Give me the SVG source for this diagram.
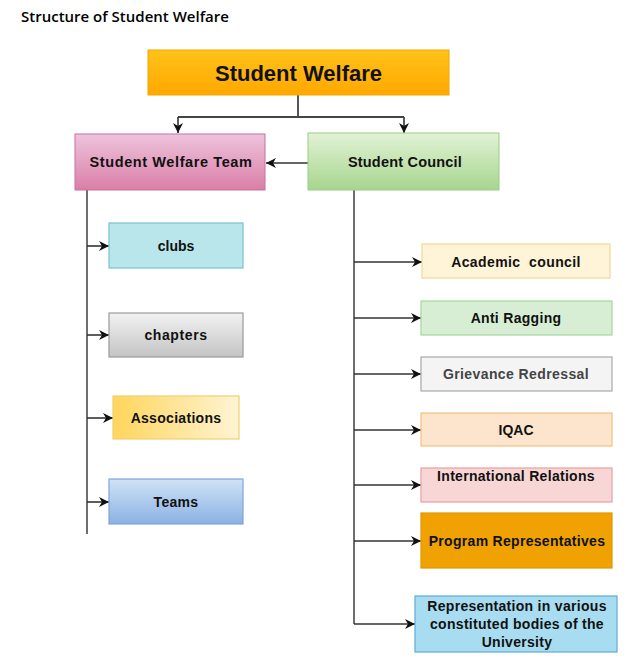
<svg xmlns="http://www.w3.org/2000/svg" width="641" height="667" viewBox="0 0 641 667">
<defs>
<linearGradient id="gOrange" x1="0" y1="0" x2="0" y2="1"><stop offset="0" stop-color="#FFC21A"/><stop offset="1" stop-color="#FFA800"/></linearGradient>
<linearGradient id="gPink" x1="0" y1="0" x2="0" y2="1"><stop offset="0" stop-color="#EEC4DC"/><stop offset="1" stop-color="#DA7EA8"/></linearGradient>
<linearGradient id="gGreen" x1="0" y1="0" x2="0" y2="1"><stop offset="0" stop-color="#E2F2D6"/><stop offset="1" stop-color="#A6D68E"/></linearGradient>
<linearGradient id="gGray" x1="0" y1="0" x2="0" y2="1"><stop offset="0" stop-color="#F2F2F2"/><stop offset="1" stop-color="#C4C4C4"/></linearGradient>
<linearGradient id="gYellow" x1="0" y1="0" x2="1" y2="0"><stop offset="0" stop-color="#FFD55C"/><stop offset="1" stop-color="#FFF4D4"/></linearGradient>
<linearGradient id="gBlue" x1="0" y1="0" x2="0" y2="1"><stop offset="0" stop-color="#D0E2F6"/><stop offset="1" stop-color="#8AB2E4"/></linearGradient>
<marker id="arr" viewBox="0 0 10 10" refX="10" refY="5" markerWidth="10" markerHeight="10" markerUnits="userSpaceOnUse" orient="auto">
<path d="M0,0 L10,5 L0,10 L3,5 Z" fill="#111"/>
</marker>
</defs>
<style>
text{font-family:"Liberation Sans",Arial,sans-serif;font-weight:bold;fill:#111;text-anchor:middle;}
.title{font-family:"Open Sans","Noto Sans",sans-serif;font-weight:600;font-size:15px;text-anchor:start;fill:#000;}
.big{font-size:22px;}
.mid{font-size:14.5px;}
.sm{font-size:14px;}
.trunk{stroke:#6e6e6e;stroke-width:2;fill:none;}
.ln{stroke:#333;stroke-width:1.6;fill:none;marker-end:url(#arr);}
.ln2{stroke:#444;stroke-width:1.8;fill:none;}
</style>
<rect width="641" height="667" fill="#fff"/>
<text class="title" x="21" y="22">Structure of Student Welfare</text>

<g id="connectors">
<path class="ln2" d="M298,95 V117 M178,117 H404"/>
<path class="ln" d="M178,117 V133"/>
<path class="ln" d="M404,117 V133"/>
<path class="ln" d="M308,163 H266"/>
<path class="trunk" d="M87,190 V534"/>
<path class="ln" d="M87,246 H109"/>
<path class="ln" d="M87,335 H109"/>
<path class="ln" d="M87,418 H113"/>
<path class="ln" d="M87,502 H109"/>
<path class="trunk" d="M354,190 V624"/>
<path class="ln" d="M354,262 H422"/>
<path class="ln" d="M354,318 H421"/>
<path class="ln" d="M354,374 H421"/>
<path class="ln" d="M354,430 H421"/>
<path class="ln" d="M354,485 H421"/>
<path class="ln" d="M354,541 H421"/>
<path class="ln" d="M354,624 H415"/>
</g>

<g id="student-welfare">
<rect x="148" y="50" width="301" height="45" fill="url(#gOrange)" stroke="#F0A800" stroke-width="1"/>
<text class="big" x="298.5" y="81">Student Welfare</text>
</g>
<g id="student-welfare-team">
<rect x="75" y="134" width="190" height="56" fill="url(#gPink)" stroke="#C8709A" stroke-width="1"/>
<text class="mid" x="171" y="167" letter-spacing="0.6">Student Welfare Team</text>
</g>
<g id="student-council">
<rect x="308" y="133" width="191" height="57" fill="url(#gGreen)" stroke="#9ACD84" stroke-width="1"/>
<text class="mid" x="405" y="167" letter-spacing="0.2">Student Council</text>
</g>

<g id="clubs">
<rect x="109" y="223" width="134" height="45" fill="#B8E6EA" stroke="#78C4CA" stroke-width="1.2"/>
<text class="sm" x="176" y="251">clubs</text>
</g>
<g id="chapters">
<rect x="109" y="313" width="134" height="44" fill="url(#gGray)" stroke="#9a9a9a" stroke-width="1.2"/>
<text class="sm" x="176" y="340" letter-spacing="0.6">chapters</text>
</g>
<g id="associations">
<rect x="113" y="396" width="126" height="43" fill="url(#gYellow)" stroke="#F0D070" stroke-width="1.2"/>
<text class="sm" x="176" y="423" letter-spacing="0.3">Associations</text>
</g>
<g id="teams">
<rect x="109" y="479" width="134" height="45" fill="url(#gBlue)" stroke="#7EA6D8" stroke-width="1.2"/>
<text class="sm" x="176" y="507" letter-spacing="0.3">Teams</text>
</g>

<g id="academic-council">
<rect x="422" y="244" width="188" height="34" fill="#FFF3D8" stroke="#F2D898" stroke-width="1.2"/>
<text class="sm" x="516" y="267" letter-spacing="0.4" xml:space="preserve">Academic  council</text>
</g>
<g id="anti-ragging">
<rect x="421" y="301" width="191" height="34" fill="#D8EED4" stroke="#A6D69E" stroke-width="1.2"/>
<text class="sm" x="516" y="323" letter-spacing="0.3">Anti Ragging</text>
</g>
<g id="grievance-redressal">
<rect x="421" y="357" width="191" height="34" fill="#F4F4F4" stroke="#A8A8A8" stroke-width="1.2"/>
<text class="sm" x="516" y="379" letter-spacing="0.4" style="fill:#444">Grievance Redressal</text>
</g>
<g id="iqac">
<rect x="421" y="413" width="191" height="33" fill="#FDE4CC" stroke="#F2C27E" stroke-width="1.2"/>
<text class="sm" x="516" y="435">IQAC</text>
</g>
<g id="international-relations">
<rect x="421" y="468" width="191" height="34" fill="#F9D6D6" stroke="#E6A0A0" stroke-width="1.2"/>
<text class="sm" x="516" y="481" letter-spacing="0.3">International Relations</text>
</g>
<g id="program-representatives">
<rect x="421" y="513" width="191" height="55" fill="#F0A202" stroke="#E39600" stroke-width="1.2"/>
<text class="sm" x="517" y="546" letter-spacing="0.3">Program Representatives</text>
</g>
<g id="representation">
<rect x="415" y="596" width="202" height="56" fill="#A8DCF0" stroke="#5EAED6" stroke-width="1.2"/>
<text class="sm" x="517" y="611" letter-spacing="0.3">Representation in various</text>
<text class="sm" x="517" y="629" letter-spacing="0.3">constituted bodies of the</text>
<text class="sm" x="517" y="647" letter-spacing="0.3">University</text>
</g>
</svg>
